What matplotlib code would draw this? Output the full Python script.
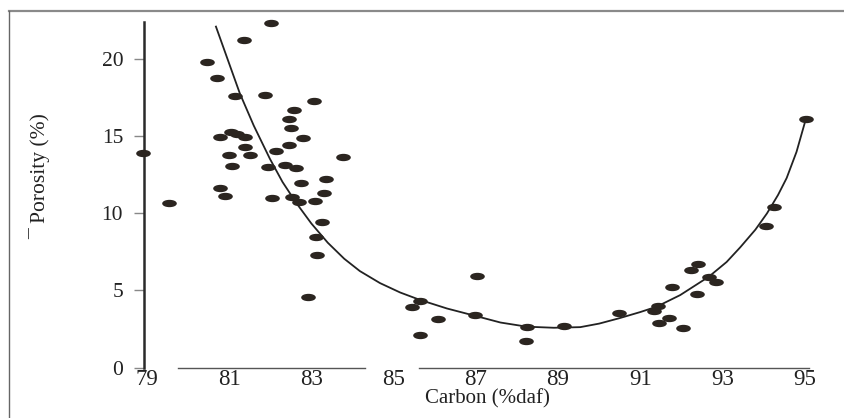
import matplotlib
matplotlib.use('Agg')
import matplotlib.pyplot as plt
from matplotlib.path import Path
from matplotlib.transforms import Affine2D
from matplotlib.lines import Line2D

# measured points
carbon = [78.91, 79.54, 80.47, 80.71, 81.36, 82.02, 81.15, 81.88, 83.06, 82.59,
          82.46, 82.51, 80.79, 81.04, 81.18, 81.39, 82.80, 81.39, 82.46, 82.14,
          81.00, 81.52, 83.78, 81.07, 81.94, 82.35, 82.63, 82.74, 83.36, 83.32,
          80.78, 80.91, 82.04, 82.54, 82.71, 83.10, 83.26, 83.11, 83.13, 82.93,
          87.04, 85.64, 85.46, 86.09, 86.99, 85.64, 88.24, 88.22, 89.14, 95.03,
          94.24, 94.06, 92.41, 92.23, 92.67, 92.83, 91.77, 92.37, 91.42, 91.34,
          90.49, 91.69, 91.46, 92.03]
porosity = [13.9, 10.68, 19.82, 18.82, 21.27, 22.35, 17.63, 17.67, 17.33, 16.74,
            16.16, 15.55, 14.99, 15.29, 15.16, 14.99, 14.90, 14.30, 14.45, 14.06,
            13.78, 13.78, 13.69, 13.10, 13.00, 13.13, 12.98, 12.00, 12.22, 11.35,
            11.64, 11.12, 11.00, 11.05, 10.75, 10.81, 9.47, 8.47, 7.33, 4.60,
            5.92, 4.34, 3.95, 3.17, 3.43, 2.13, 2.63, 1.74, 2.67, 16.16,
            10.44, 9.17, 6.74, 6.31, 5.90, 5.55, 5.21, 4.75, 3.99, 3.67,
            3.54, 3.19, 2.87, 2.56]

# trend curve
curve_c = [80.68, 81.26, 81.6, 81.99, 82.3, 82.64, 83.0, 83.4, 83.8, 84.18,
           84.67, 85.16, 85.64, 86.3, 86.99, 87.6, 88.24, 88.9, 89.54, 90.0,
           90.49, 91.0, 91.4, 91.97, 92.67, 93.1, 93.43, 93.8, 94.08, 94.35,
           94.56, 94.8, 95.03]
curve_p = [22.13, 17.8, 15.7, 13.56, 12.04, 10.66, 9.35, 8.1, 7.06, 6.26,
           5.48, 4.87, 4.39, 3.83, 3.35, 2.92, 2.65, 2.58, 2.62, 2.85,
           3.2, 3.6, 3.95, 4.7, 5.9, 6.85, 7.8, 8.95, 10.0, 11.2,
           12.3, 14.0, 16.16]

xticks = [79, 81, 83, 85, 87, 89, 91, 93, 95]
yticks = [0, 5, 10, 15, 20]

plt.rcParams['font.family'] = ['Liberation Serif', 'DejaVu Serif']

fig = plt.figure(figsize=(8.45, 4.18), dpi=100)
ax = fig.add_axes([0.1704, 0.1208, 0.7917, 0.8266])

ell = Path.unit_circle().transformed(Affine2D().scale(1, 0.45))
ax.plot(curve_c, curve_p, color='#222222', lw=1.3, zorder=2,
        solid_joinstyle='round')
ax.plot(carbon, porosity, ls='none', marker=ell, ms=9.5, color='#2b2520',
        clip_on=False, zorder=3)

ax.set_xlim(78.93, 95.2)
ax.set_ylim(0, 22.43)

for s in ['top', 'right', 'bottom']:
    ax.spines[s].set_visible(False)
ax.spines['left'].set_linewidth(1.8)
ax.spines['left'].set_color('#2a2a2a')

# broken bottom axis line as in the scan
for a, b in [(79.75, 84.3), (85.62, 95.1)]:
    ax.plot([a, b], [0, 0], color='#555555', lw=1.0, clip_on=False, zorder=1)

ax.set_xticks(xticks)
ax.set_xticklabels([str(t) for t in xticks], fontsize=16.5)
ax.set_yticks(yticks)
ax.set_yticklabels([str(t) for t in yticks], fontsize=15.5)
ax.tick_params(axis='x', length=0, pad=1, colors='#222222')
ax.tick_params(axis='y', direction='out', length=7, width=1, color='#888888',
               pad=8, labelcolor='#222222')

fig.text(487 / 845, 1 - 399 / 418, 'Carbon (%daf)', ha='center', va='center',
         fontsize=15, color='#222222')
fig.text(40 / 845, 1 - 176 / 418, '\u00af Porosity (%)', rotation=90,
         ha='center', va='center', fontsize=15.5, color='#222222')

# frame of the scanned figure
fig.add_artist(Line2D([9 / 845, 1], [1 - 11 / 418] * 2, color='#8a8a8a', lw=1.6))
fig.add_artist(Line2D([9 / 845] * 2, [0, 1 - 11 / 418], color='#666666', lw=1.0))

fig.savefig('out.png', dpi=100)
